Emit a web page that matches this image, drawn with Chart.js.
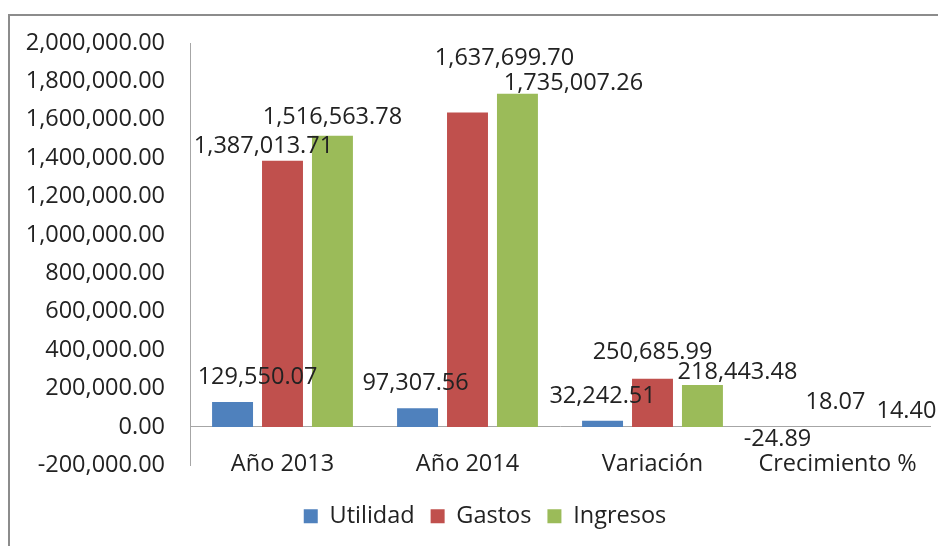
<!DOCTYPE html>
<html>
<head>
<meta charset="utf-8">
<script src="https://cdn.jsdelivr.net/npm/chart.js@4/dist/chart.umd.min.js"></script>
<style>
body{margin:0;background:#fff;}
#wrap{position:relative;width:938px;height:546px;overflow:hidden;}
#frame{position:absolute;left:8px;top:14px;width:1000px;height:600px;border-top:2px solid #8c8c8c;border-left:2px solid #8c8c8c;}
#myChart{position:absolute;left:0;top:0;}
</style>
</head>
<body>
<div id="wrap">
<div id="frame"></div>
<canvas id="myChart" width="938" height="546"></canvas>
</div>
<script>
'use strict';
const categories=['Año 2013','Año 2014','Variación','Crecimiento %'];
const utilidad=[129550.07,97307.56,32242.51,-24.89];
const gastos=[1387013.71,1637699.70,250685.99,18.07];
const ingresos=[1516563.78,1735007.26,218443.48,14.40];
const yMin=-200000;
const yMax=2000000;
const yStep=200000;

// where each value label sits, relative to its bar end (px)
const labelOffsets=[
    [[25,-25],[-2,-25],[0,-24],[-10,12]],
    [[-19,-14],[37,-54],[0,-26],[-2,-25]],
    [[0,-18],[56,-11],[35,-13],[19,-16]]
];

const textColor='#222222';
const fontFamily='"Open Sans", "Noto Sans", sans-serif';
const fontSize=23.5;

function fmt(v){
    return v.toLocaleString('en-US',{minimumFractionDigits:2,maximumFractionDigits:2});
}

const valueLabels={
    id:'valueLabels',
    afterDatasetsDraw(chart){
        const ctx=chart.ctx;
        ctx.save();
        ctx.font=fontSize+'px '+fontFamily;
        ctx.fillStyle=textColor;
        ctx.textAlign='center';
        ctx.textBaseline='middle';
        chart.data.datasets.forEach((ds,i)=>{
            chart.getDatasetMeta(i).data.forEach((bar,j)=>{
                const off=labelOffsets[i][j];
                ctx.fillText(fmt(ds.data[j]),bar.x+off[0],bar.y+off[1]);
            });
        });
        ctx.restore();
    }
};

// legend sits a bit right of the canvas centre
const legendShift={
    id:'legendShift',
    afterLayout(chart){
        chart.legend.left+=16;
        chart.legend.right+=16;
    }
};

Chart.defaults.font.family=fontFamily;
Chart.defaults.font.size=fontSize;
Chart.defaults.color=textColor;

const ctx=document.getElementById('myChart').getContext('2d');
const myChart=new Chart(ctx,{
    type:'bar',
    data:{
        labels:categories,
        datasets:[{
            label:'Utilidad',
            data:utilidad,
            backgroundColor:'#4F81BD'
        },{
            label:'Gastos',
            data:gastos,
            backgroundColor:'#C0504D'
        },{
            label:'Ingresos',
            data:ingresos,
            backgroundColor:'#9BBB59'
        }]
    },
    options:{
        responsive:false,
        animation:false,
        categoryPercentage:0.81,
        barPercentage:0.82,
        layout:{padding:{left:8,right:8,top:43,bottom:8}},
        plugins:{
            tooltip:{enabled:false},
            legend:{
                position:'bottom',
                title:{display:true,text:'',font:{size:1},padding:{top:22,bottom:0}},
                labels:{boxWidth:14,boxHeight:14,padding:16,font:{size:fontSize}}
            }
        },
        scales:{
            x:{
                position:{y:0},
                grid:{display:false},
                border:{display:true,color:'#a6a6a6',width:1},
                ticks:{padding:15,font:{size:fontSize}}
            },
            y:{
                min:yMin,
                max:yMax,
                grid:{display:false},
                border:{display:true,color:'#a6a6a6',width:1},
                ticks:{stepSize:yStep,padding:17,font:{size:fontSize},callback:v=>fmt(v)},
                afterFit(scale){scale.width=182;}
            }
        }
    },
    plugins:[valueLabels,legendShift]
});
</script>
</body>
</html>
